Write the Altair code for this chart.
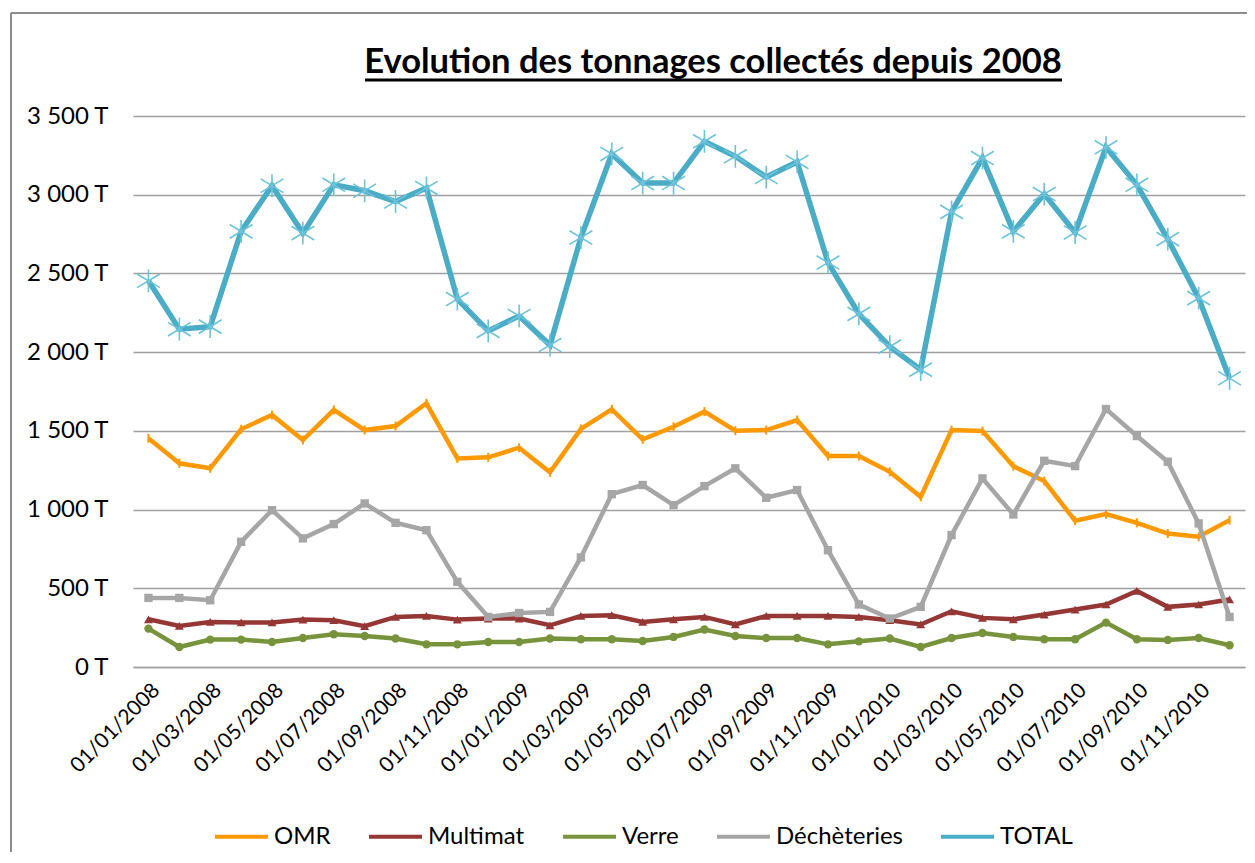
import altair as alt
import pandas as pd

dates = [
    "01/01/2008", "01/02/2008", "01/03/2008", "01/04/2008", "01/05/2008", "01/06/2008",
    "01/07/2008", "01/08/2008", "01/09/2008", "01/10/2008", "01/11/2008", "01/12/2008",
    "01/01/2009", "01/02/2009", "01/03/2009", "01/04/2009", "01/05/2009", "01/06/2009",
    "01/07/2009", "01/08/2009", "01/09/2009", "01/10/2009", "01/11/2009", "01/12/2009",
    "01/01/2010", "01/02/2010", "01/03/2010", "01/04/2010", "01/05/2010", "01/06/2010",
    "01/07/2010", "01/08/2010", "01/09/2010", "01/10/2010", "01/11/2010", "01/12/2010",
]
tick_labels = dates[::2]

omr = [1453, 1294, 1262, 1510, 1601, 1442, 1633, 1505, 1531, 1675, 1325, 1332,
       1393, 1237, 1512, 1637, 1446, 1526, 1622, 1501, 1505, 1569, 1340, 1340,
       1240, 1081, 1505, 1499, 1276, 1181, 929, 971, 916, 848, 827, 933]
multimat = [303, 261, 286, 283, 283, 301, 297, 259, 318, 324, 301, 308,
            308, 265, 324, 329, 286, 303, 318, 270, 324, 324, 324, 318,
            297, 270, 354, 312, 303, 333, 365, 397, 483, 382, 397, 429]
verre = [244, 127, 174, 174, 159, 184, 208, 197, 181, 144, 144, 159,
         159, 181, 176, 176, 165, 191, 238, 197, 184, 184, 144, 163,
         181, 127, 184, 216, 191, 176, 176, 282, 176, 172, 184, 138]
decheteries = [439, 439, 424, 795, 996, 817, 908, 1039, 916, 869, 541, 318,
               343, 350, 696, 1098, 1156, 1028, 1149, 1262, 1075, 1124, 742, 397,
               308, 382, 838, 1198, 969, 1310, 1276, 1639, 1467, 1304, 912, 318]
total = [2453, 2146, 2162, 2767, 3057, 2756, 3063, 3025, 2957, 3043, 2337, 2135,
         2230, 2045, 2728, 3259, 3074, 3074, 3339, 3244, 3112, 3208, 2569, 2243,
         2035, 1889, 2891, 3233, 2767, 3004, 2760, 3301, 3063, 2718, 2343, 1834]

series_names = ["OMR", "Multimat", "Verre", "Déchèteries", "TOTAL"]
series_values = [omr, multimat, verre, decheteries, total]
colors = ["#FF9900", "#953735", "#77933C", "#A6A6A6", "#4BACC6"]
title_text = "Evolution des tonnages collectés depuis 2008"

rows = []
for name, vals in zip(series_names, series_values):
    for d, v in zip(dates, vals):
        rows.append({"date": d, "series": name, "value": v})
df = pd.DataFrame(rows)

FONT = "Lato"

x_enc = alt.X(
    "date:O", sort=dates, scale=alt.Scale(domain=dates),
    axis=alt.Axis(values=tick_labels, labelAngle=-45, labelAlign="right",
                  labelBaseline="top", labelFontSize=21, labelFont=FONT,
                  labelColor="black", labelPadding=12, ticks=False, domain=True,
                  domainColor="#A0A0A0", domainWidth=1.5, grid=False, title=None),
)
y_enc = alt.Y(
    "value:Q", scale=alt.Scale(domain=[0, 3500], nice=False),
    axis=alt.Axis(values=[0, 500, 1000, 1500, 2000, 2500, 3000, 3500],
                  labelExpr="replace(format(datum.value, ',d'), ',', ' ') + ' T'",
                  labelFontSize=24, labelFont=FONT, labelColor="black",
                  labelPadding=25, ticks=False, domain=False, grid=True,
                  gridColor="#A0A0A0", gridWidth=1.5, title=None),
)
color_enc = alt.Color(
    "series:N", scale=alt.Scale(domain=series_names, range=colors),
    legend=alt.Legend(orient="none", direction="horizontal", legendX=80, legendY=692,
                      title=None, symbolType="stroke", symbolSize=2809,
                      symbolStrokeWidth=4, labelFont=FONT, labelFontSize=24,
                      labelColor="black", labelOffset=4, columnPadding=30),
)

base = alt.Chart(df).encode(x=x_enc, y=y_enc)

layers = []
widths = {"OMR": 4.5, "Multimat": 4.5, "Verre": 4.5, "Déchèteries": 4.5, "TOTAL": 5.5}
asterisk = "M0,-1L0,1M-1,-0.6L1,0.6M-1,0.6L1,-0.6"
for name, col in zip(series_names, colors):
    sub = base.transform_filter(alt.datum.series == name)
    layers.append(sub.mark_line(strokeWidth=widths[name]).encode(color=color_enc))
    if name == "OMR":
        pts = sub.mark_point(shape="M0,-1L0,1", size=81, filled=False,
                             strokeWidth=2, color=col, opacity=1)
    elif name == "Multimat":
        pts = sub.mark_point(shape="triangle-up", size=80, filled=True, color=col, opacity=1)
    elif name == "Verre":
        pts = sub.mark_point(shape="circle", size=70, filled=True, color=col, opacity=1)
    elif name == "Déchèteries":
        pts = sub.mark_point(shape="square", size=70, filled=True, color=col, opacity=1)
    else:
        pts = sub.mark_point(shape=asterisk, size=520, filled=False, strokeWidth=1.6,
                             color="#6CC3DA", opacity=1)
    layers.append(pts)

deco = pd.DataFrame({"k": [0]})
title_mark = alt.Chart(deco).mark_text(
    text=title_text, font=FONT, fontSize=34.5, fontWeight="bold", color="black",
    align="center", baseline="alphabetic").encode(x=alt.value(580), y=alt.value(-43))
underline = alt.Chart(deco).mark_rule(color="black", strokeWidth=3).encode(
    x=alt.value(232), x2=alt.value(929), y=alt.value(-36))
border_left = alt.Chart(deco).mark_rule(color="#8C8C8C", strokeWidth=2).encode(
    x=alt.value(-122), y=alt.value(-103), y2=alt.value(760))
border_top = alt.Chart(deco).mark_rule(color="#8C8C8C", strokeWidth=2).encode(
    x=alt.value(-122), x2=alt.value(1130), y=alt.value(-103))

chart = alt.layer(*layers, title_mark, underline, border_left, border_top).properties(
    width=1112, height=551,
    padding={"left": 125, "top": 108, "right": 2, "bottom": 185},
    autosize=alt.AutoSizeParams(type="none"),
    background="white",
).configure_view(stroke=None)

chart.save("out.html", embed_options={"renderer": "svg", "actions": False})
